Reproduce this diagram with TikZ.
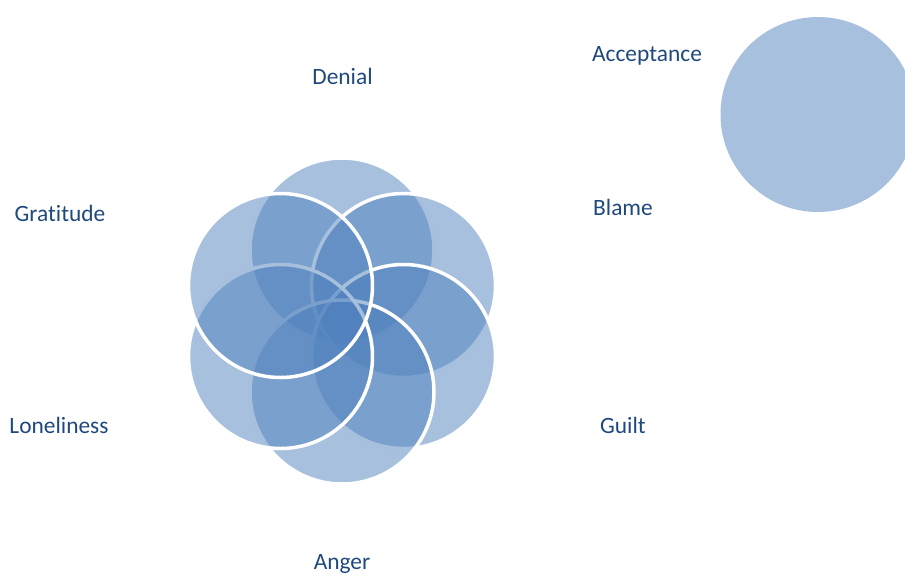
\documentclass[tikz,border=0pt]{standalone}
\usepackage{fontspec}
\setmainfont{Carlito}[Ligatures={NoCommon}]
\definecolor{petalblue}{HTML}{4F81BD}
\definecolor{labelblue}{HTML}{1F497D}
\tikzset{
  petalcircle/.style={circle,inner sep=0pt,minimum size=184pt,fill=petalblue,fill opacity=0.5,draw=white,line width=3.5pt},
  stagelabel/.style={anchor=base,text=labelblue,font=\fontsize{23.4}{28}\selectfont}
}
\begin{document}
\begin{tikzpicture}[x=1pt,y=-1pt]
  \useasboundingbox (0,0) rectangle (905,574);
  % petals, drawn clockwise from the top
  \node[petalcircle] (denialc) at (342,250) {};
  \node[petalcircle] (blamec) at (403.5,285.5) {};
  \node[petalcircle] (guiltc) at (403.5,356.5) {};
  \node[petalcircle] (angerc) at (342,392) {};
  \node[petalcircle] (lonelinessc) at (280.5,356.5) {};
  \node[petalcircle] (gratitudec) at (280.5,285.5) {};
  % lone circle
  \node[circle,inner sep=0pt,minimum size=195pt,fill=petalblue,fill opacity=0.5] (acceptancec) at (818,114.5) {};
  % labels
  \node[stagelabel] (denial) at (342.5,84) {Denial};
  \node[stagelabel] (acceptance) at (647,61) {Acceptance};
  \node[stagelabel] (gratitude) at (60,221.5) {Gratitude};
  \node[stagelabel] (blame) at (623,215.5) {Blame};
  \node[stagelabel] (loneliness) at (59,433.5) {Loneliness};
  \node[stagelabel] (guilt) at (623,433.5) {Guilt};
  \node[stagelabel] (anger) at (342,569.5) {Anger};
\end{tikzpicture}
\end{document}
